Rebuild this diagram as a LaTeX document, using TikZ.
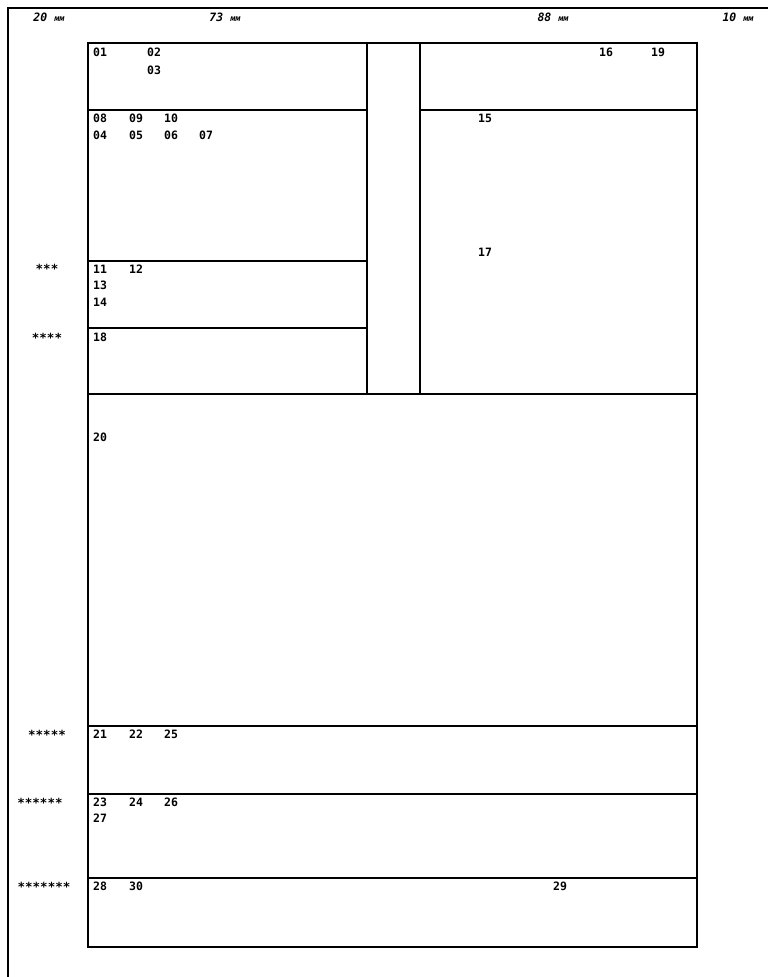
\documentclass[tikz,border=0pt]{standalone}
\usepackage{fontspec}
\setmonofont{DejaVu Sans Mono}
\begin{document}
\begin{tikzpicture}[x=1pt,y=-1pt,
  frame/.style={line width=2pt,line cap=rect},
  thin/.style={line width=1.4pt},
  lbl/.style={font=\ttfamily\bfseries\fontsize{11.5}{11.5}\selectfont,anchor=west,inner sep=0pt},
  hdr/.style={font=\ttfamily\bfseries\itshape\fontsize{11.5}{11.5}\selectfont,inner sep=0pt},
  star/.style={font=\ttfamily\bfseries\fontsize{12.5}{12.5}\selectfont,inner sep=0pt}]
\useasboundingbox (0,0) rectangle (768,977);
% outer guide lines
\draw[thin] (8,977) -- (8,8) -- (768,8);
% main frame
\draw[frame] (88,43) rectangle (697,947);
% narrow column
\draw[frame] (367,43) -- (367,394);
\draw[frame] (420,43) -- (420,394);
% left block rows
\draw[frame] (88,110) -- (367,110);
\draw[frame] (88,261) -- (367,261);
\draw[frame] (88,328) -- (367,328);
% right block
\draw[frame] (420,110) -- (697,110);
% full-width rows
\draw[frame] (88,394) -- (697,394);
\draw[frame] (88,726) -- (697,726);
\draw[frame] (88,794) -- (697,794);
\draw[frame] (88,878) -- (697,878);
% header
\node[hdr] (h20) at (49,17) {20 {\fontsize{8.5}{8.5}\selectfont мм}};
\node[hdr] (h73) at (225,17) {73 {\fontsize{8.5}{8.5}\selectfont мм}};
\node[hdr] (h88) at (553,17) {88 {\fontsize{8.5}{8.5}\selectfont мм}};
\node[hdr] (h10) at (738,17) {10 {\fontsize{8.5}{8.5}\selectfont мм}};
% left stars
\node[star] (s3) at (47,269) {***};
\node[star] (s4) at (47,338) {****};
\node[star] (s5) at (47,735) {*****};
\node[star] (s6) at (40,803) {******};
\node[star] (s7) at (44,887) {*******};
% cell numbers
\node[lbl] (n01) at (93,52) {01};
\node[lbl] (n02) at (147,52) {02};
\node[lbl] (n03) at (147,70) {03};
\node[lbl] (n16) at (599,52) {16};
\node[lbl] (n19) at (651,52) {19};
\node[lbl] (n08) at (93,118) {08};
\node[lbl] (n09) at (129,118) {09};
\node[lbl] (n10) at (164,118) {10};
\node[lbl] (n04) at (93,135) {04};
\node[lbl] (n05) at (129,135) {05};
\node[lbl] (n06) at (164,135) {06};
\node[lbl] (n07) at (199,135) {07};
\node[lbl] (n15) at (478,118) {15};
\node[lbl] (n17) at (478,252) {17};
\node[lbl] (n11) at (93,269) {11};
\node[lbl] (n12) at (129,269) {12};
\node[lbl] (n13) at (93,285) {13};
\node[lbl] (n14) at (93,302) {14};
\node[lbl] (n18) at (93,337) {18};
\node[lbl] (n20) at (93,437) {20};
\node[lbl] (n21) at (93,734) {21};
\node[lbl] (n22) at (129,734) {22};
\node[lbl] (n25) at (164,734) {25};
\node[lbl] (n23) at (93,802) {23};
\node[lbl] (n24) at (129,802) {24};
\node[lbl] (n26) at (164,802) {26};
\node[lbl] (n27) at (93,818) {27};
\node[lbl] (n28) at (93,886) {28};
\node[lbl] (n30) at (129,886) {30};
\node[lbl] (n29) at (553,886) {29};
\end{tikzpicture}
\end{document}
